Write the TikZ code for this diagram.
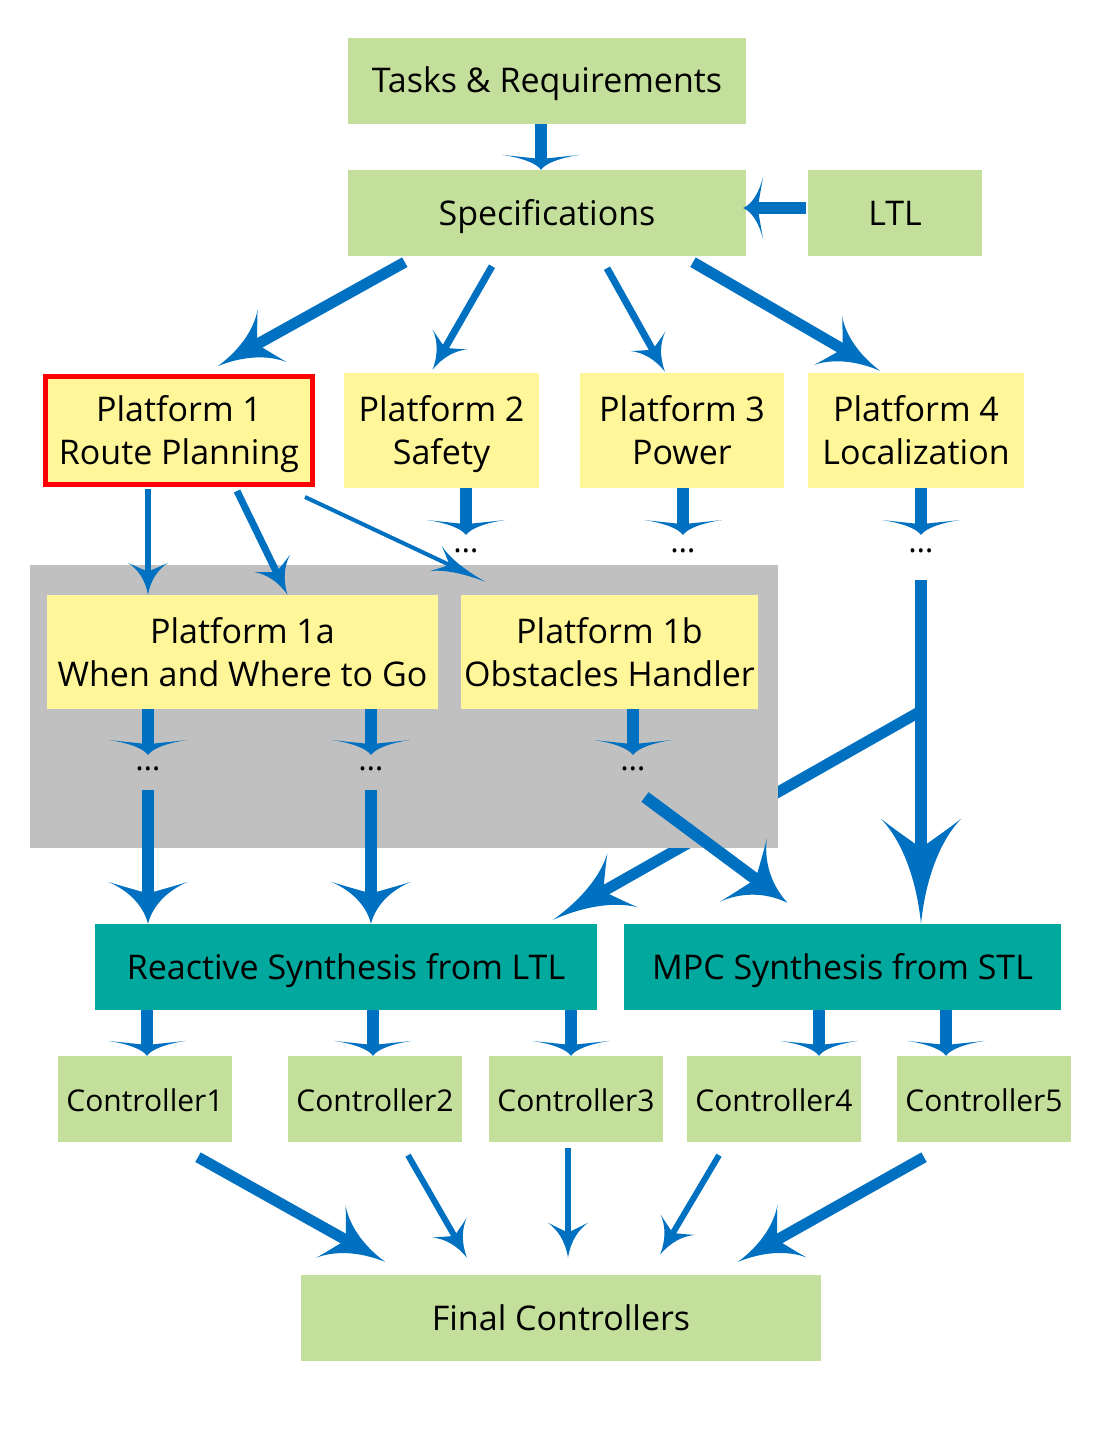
\documentclass[tikz,border=0pt]{standalone}
\usepackage{fontspec}
\setmainfont{Open Sans}
\usetikzlibrary{arrows.meta,calc,backgrounds}

\definecolor{reqgreen}{RGB}{196,223,155}
\definecolor{platyellow}{RGB}{255,246,153}
\definecolor{synteal}{RGB}{0,168,157}
\definecolor{boxgray}{RGB}{192,192,192}
\definecolor{flowblue}{RGB}{0,112,192}

% fixed text boxes: one line, and two lines
\newcommand{\lh}{\rule[-10pt]{0pt}{44pt}}
\newcommand{\lt}{\rule[-10pt]{0pt}{88pt}}

% curved arrow head
\pgfdeclarearrow{
  name = Swoop,
  parameters = {\the\pgfarrowlength,\the\pgfarrowwidth},
  setup code = {
    \pgfarrowssettipend{\pgfarrowlength}
    \pgfarrowssetbackend{0pt}
    \pgfarrowssetlineend{.35\pgfarrowlength}
    \pgfarrowssavethe\pgfarrowlength
    \pgfarrowssavethe\pgfarrowwidth
  },
  drawing code = {
    \pgfpathmoveto{\pgfqpoint{\pgfarrowlength}{0pt}}
    \pgfpathcurveto{\pgfqpoint{.55\pgfarrowlength}{.06\pgfarrowwidth}}{\pgfqpoint{.2\pgfarrowlength}{.25\pgfarrowwidth}}{\pgfqpoint{0pt}{.5\pgfarrowwidth}}
    \pgfpathcurveto{\pgfqpoint{.12\pgfarrowlength}{.3\pgfarrowwidth}}{\pgfqpoint{.22\pgfarrowlength}{.1\pgfarrowwidth}}{\pgfqpoint{.28\pgfarrowlength}{0pt}}
    \pgfpathcurveto{\pgfqpoint{.22\pgfarrowlength}{-.1\pgfarrowwidth}}{\pgfqpoint{.12\pgfarrowlength}{-.3\pgfarrowwidth}}{\pgfqpoint{0pt}{-.5\pgfarrowwidth}}
    \pgfpathcurveto{\pgfqpoint{.2\pgfarrowlength}{-.25\pgfarrowwidth}}{\pgfqpoint{.55\pgfarrowlength}{-.06\pgfarrowwidth}}{\pgfqpoint{\pgfarrowlength}{0pt}}
    \pgfpathclose
    \pgfusepathqfill
  },
  defaults = {length=20pt, width=40pt}
}

\begin{document}
\begin{tikzpicture}[
  x=1pt, y=-1pt,
  font=\fontsize{34}{43}\selectfont,
  every node/.style={align=center, inner sep=0pt},
  txt/.style={execute at begin node=\lh, execute at end node=\lh},
  req/.style={txt, rectangle, fill=reqgreen, minimum height=86pt},
  plat/.style={rectangle, fill=platyellow, minimum height=115pt,
    execute at begin node=\lt, execute at end node=\lh},
  synth/.style={txt, rectangle, fill=synteal, minimum height=86pt},
  ctrl/.style={req, minimum width=174pt, font=\fontsize{30}{36}\selectfont},
  more/.style={font=\fontsize{32}{36}\selectfont},
  flow/.style n args={3}{color=flowblue, line width=#1, -{Swoop[length=#2, width=#3]}},
  stub/.style={flow={12pt}{15pt}{78pt}},
  fat/.style={flow={11pt}{62pt}{60pt}},
  slim/.style={flow={7pt}{35pt}{40pt}},
]
\useasboundingbox (0,0) rectangle (1100,1450);

\node[req, minimum width=398pt] (tasks) at (547,81) {Tasks \& Requirements};
\node[req, minimum width=398pt] (spec) at (547,213) {Specifications};
\node[req, minimum width=174pt] (ltl) at (895,213) {LTL};

\node[plat, draw=red, line width=5pt, minimum width=267pt, minimum height=108pt] (p1) at (179,430.5) {Platform 1\\Route Planning};
\node[plat, minimum width=195pt] (p2) at (441.5,430.5) {Platform 2\\Safety};
\node[plat, minimum width=204pt] (p3) at (682,430.5) {Platform 3\\Power};
\node[plat, minimum width=216pt] (p4) at (916,430.5) {Platform 4\\Localization};

\node[more] (d2) at (466,551) {…};
\node[more] (d3) at (683,551) {…};
\node[more] (d4) at (921,551) {…};

\node[plat, minimum width=391pt, minimum height=114pt] (p1a) at (242.5,652) {Platform 1a\\When and Where to Go};
\node[plat, minimum width=297pt, minimum height=114pt] (p1b) at (609.5,652) {Platform 1b\\Obstacles Handler};

\node[more] (e1) at (148,769) {…};
\node[more] (e2) at (371,769) {…};
\node[more] (e3) at (633,769) {…};

\node[synth, minimum width=502pt] (rs) at (346,967) {Reactive Synthesis from LTL};
\node[synth, minimum width=437pt] (mpc) at (842.5,967) {MPC Synthesis from STL};

\node[ctrl] (c1) at (145,1099) {Controller1};
\node[ctrl] (c2) at (375,1099) {Controller2};
\node[ctrl] (c3) at (576,1099) {Controller3};
\node[ctrl] (c4) at (774,1099) {Controller4};
\node[ctrl] (c5) at (984,1099) {Controller5};

\node[req, minimum width=520pt] (final) at (561,1318) {Final Controllers};

\coordinate (split) at (921,711);

% the gray group lies over the branch to the left
\begin{pgfonlayer}{background}
\draw[flow={11pt}{80pt}{62pt}] (split) -- ($(rs.north)+(207,-4)$);
\node[rectangle, fill=boxgray, minimum width=748pt, minimum height=283pt] (grp) at (404,706.5) {};
\end{pgfonlayer}

\draw[stub] ($(tasks.south)+(-6,0)$) -- ($(spec.north)+(-6,0)$);
\draw[flow={11pt}{20pt}{63pt}] ($(ltl.west)+(-2,-5)$) -- ($(spec.east)+(-3,-5)$);
\draw[fat] ($(spec.south west)+(57,6)$) -- ($(p1.north)+(39,-8)$);
\draw[slim] ($(spec.south)+(-55,10)$) -- ($(p2.north)+(-9,-3)$);
\draw[slim] ($(spec.south)+(60,12)$) -- ($(p3.north)+(-17,-1)$);
\draw[flow={11pt}{60pt}{56pt}] ($(spec.south)+(146,6)$) -- ($(p4.north)+(-36,-2)$);

\draw[stub] (p2.south -| d2) -- ($(d2.center)+(0,-16)$);
\draw[stub] (p3.south -| d3) -- ($(d3.center)+(0,-16)$);
\draw[stub] (p4.south -| d4) -- ($(d4.center)+(0,-16)$);

\draw[flow={6pt}{32pt}{40pt}] ($(p1.south -| e1)+(0,2)$) -- (p1a.north -| e1);
\draw[slim] ($(p1.south)+(58,4)$) -- ($(p1a.north)+(45,0)$);
\draw[flow={4pt}{55pt}{28pt}] ($(p1.south)+(126,10)$) -- ($(p1b.north)+(-124,-13)$);

\draw[stub] (p1a.south -| e1) -- ($(e1.center)+(0,-14)$);
\draw[stub] (p1a.south -| e2) -- ($(e2.center)+(0,-14)$);
\draw[stub] (p1b.south -| e3) -- ($(e3.center)+(0,-14)$);

\draw[flow={12pt}{42pt}{80pt}] ($(e1.center)+(0,21)$) -- (rs.north -| e1);
\draw[flow={12pt}{42pt}{80pt}] ($(e2.center)+(0,21)$) -- (rs.north -| e2);
\draw[flow={12pt}{55pt}{79pt}] ($(e3.center)+(12,28)$) -- ($(mpc.north)+(-55,-21)$);
\draw[flow={12pt}{105pt}{80pt}] ($(d4.center)+(0,29)$) -- (mpc.north -| d4);

\draw[stub] ($(rs.south)+(-199,0)$) -- ($(c1.north)+(2,0)$);
\draw[stub] ($(rs.south)+(27,0)$) -- ($(c2.north)+(-2,0)$);
\draw[stub] ($(rs.south)+(225,0)$) -- ($(c3.north)+(-5,0)$);
\draw[stub] ($(mpc.south)+(-23.5,0)$) -- ($(c4.north)+(45,0)$);
\draw[stub] ($(mpc.south)+(103.5,0)$) -- ($(c5.north)+(-38,0)$);

\draw[fat] ($(c1.south)+(53,15)$) -- ($(final.north)+(-176,-13)$);
\draw[flow={6pt}{35pt}{40pt}] ($(c2.south)+(33,13)$) -- ($(final.north)+(-94,-17)$);
\draw[flow={6pt}{35pt}{40pt}] ($(c3.south)+(-8,6)$) -- ($(final.north)+(7,-17)$);
\draw[flow={6pt}{35pt}{40pt}] ($(c4.south)+(-55,13)$) -- ($(final.north)+(99,-20)$);
\draw[fat] ($(c5.south)+(-60,15)$) -- ($(final.north)+(177,-13)$);
\end{tikzpicture}
\end{document}
